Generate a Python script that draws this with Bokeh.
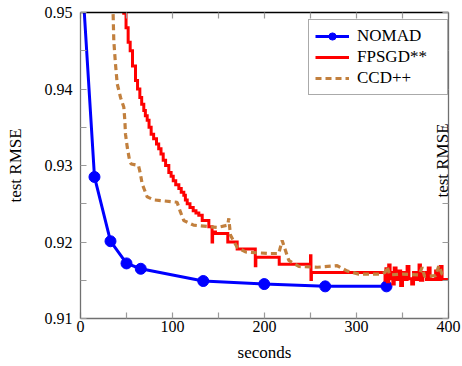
import math
from bokeh.plotting import figure
from bokeh.models import (Range1d, FixedTicker, LinearAxis, Legend, LegendItem, Label,
                          CustomJSTickFormatter)
from bokeh.embed import file_html
from bokeh.resources import INLINE

# ---- data ----
nomad_t = [0, 15.2, 32.6, 50.0, 65.5, 133.4, 199.7, 266.0, 332.6]
nomad_rmse = [0.958, 0.9285, 0.9201, 0.9172, 0.9165, 0.9149, 0.9145, 0.9142, 0.9142]

fpsgd_t = [40, 47, 49.5, 51.8, 54, 56.5, 59.8, 62, 64.5, 66.5, 68.8, 70.5, 72.5, 74.5,
           76.8, 79.5, 82.6, 85, 87.5, 89.9, 92.5, 96, 98.5, 100.8, 103.5, 106.9, 109.5,
           112.3, 114, 116, 119, 122.5, 125.5, 128.6, 132.3, 139.5, 143.0, 143.6, 146.7,
           160.1, 170.3, 190.0, 190.6, 216, 250.0, 250.5, 251.0,
           331, 332, 333.5, 335, 336.5, 338, 339.5, 341, 343, 346, 348, 350, 352, 355,
           357, 360, 362, 365, 368, 369.5, 372, 376, 378, 380, 386, 388, 391, 393, 400]
fpsgd_rmse = [0.9525, 0.9499, 0.9480, 0.9461, 0.9450, 0.9430, 0.9411, 0.9400, 0.9389,
              0.9380, 0.9372, 0.9365, 0.9359, 0.9350, 0.9341, 0.9335, 0.9328, 0.9322,
              0.9315, 0.9307, 0.9300, 0.9291, 0.9286, 0.9280, 0.9275, 0.9270, 0.9265,
              0.9261, 0.9255, 0.9250, 0.9245, 0.9241, 0.9238, 0.9235, 0.9228, 0.9220,
              0.9200, 0.9213, 0.9211, 0.9200, 0.9191, 0.9169, 0.9180, 0.9171, 0.9182,
              0.9151, 0.9160,
              0.9150, 0.9165, 0.9148, 0.9170, 0.9152, 0.9160, 0.9145, 0.9166, 0.9151,
              0.9162, 0.9143, 0.9160, 0.9151, 0.9168, 0.9152, 0.9145, 0.9160, 0.9151,
              0.9170, 0.9150, 0.9160, 0.9151, 0.9166, 0.9151, 0.9162, 0.9151, 0.9168,
              0.9151, 0.9151]

ccd_t = [33, 35.5, 36.2, 38, 39.9, 43.5, 47.1, 48.2, 48.9, 50.8, 53.3, 55, 63, 65, 67,
         72.5, 80, 105, 108.7, 112.3, 123, 148.6, 160, 161.2, 163, 170.3, 179.4, 203,
         215.5, 219.2, 226.4, 237.3, 257.3, 279, 290, 302.5, 326, 331, 333.4, 336, 350,
         368, 371.4, 374, 386, 389.5, 393, 395]
ccd_rmse = [0.955, 0.9496, 0.9463, 0.9433, 0.9407, 0.9389, 0.9376, 0.9359, 0.9341,
            0.9324, 0.9307, 0.9302, 0.9300, 0.9290, 0.9276, 0.9259, 0.9255, 0.9252,
            0.9239, 0.9228, 0.9222, 0.9219, 0.9222, 0.9231, 0.9209, 0.9193, 0.9187,
            0.9185, 0.9185, 0.9202, 0.9176, 0.9168, 0.9167, 0.9169, 0.9162, 0.9158,
            0.9158, 0.9160, 0.9168, 0.9157, 0.9158, 0.9157, 0.9167, 0.9155, 0.9156,
            0.9169, 0.9158, 0.9157]

x_ticks = [0, 100, 200, 300, 400]
x_minor = [50, 150, 250, 350]
y_ticks = [0.91, 0.92, 0.93, 0.94, 0.95]
y_minor = [0.915, 0.925, 0.935, 0.945]

FONT = "Liberation Serif"
AX = "#707070"
TK = "#9a9a9a"

p = figure(width=462, height=366, output_backend="svg", toolbar_location=None,
           x_range=Range1d(0, 400), y_range=Range1d(0.91, 0.95),
           min_border_left=80, min_border_right=14, min_border_top=12, min_border_bottom=48,
           x_axis_label="seconds", y_axis_label="test RMSE")
p.outline_line_color = None
p.xgrid.visible = False
p.ygrid.visible = False
p.background_fill_color = "white"
p.border_fill_color = "white"

def style_axis(ax, line_color, labels=True):
    ax.axis_line_color = line_color
    ax.axis_line_width = 1.3
    ax.major_tick_line_color = TK
    ax.minor_tick_line_color = TK
    ax.major_tick_in = 6
    ax.major_tick_out = 0
    ax.minor_tick_in = 6
    ax.minor_tick_out = 0
    ax.major_tick_line_width = 1.2
    ax.minor_tick_line_width = 1.2
    ax.major_label_text_font = FONT
    ax.major_label_text_font_size = "16px"
    ax.major_label_text_color = "black"
    ax.axis_label_text_font = FONT
    ax.axis_label_text_font_size = "17px"
    ax.axis_label_text_font_style = "normal"
    ax.axis_label_text_color = "black"
    if not labels:
        ax.formatter = CustomJSTickFormatter(code="return ''")
        ax.major_label_standoff = 0

p.xaxis.ticker = FixedTicker(ticks=x_ticks, minor_ticks=x_minor)
p.yaxis.ticker = FixedTicker(ticks=y_ticks, minor_ticks=y_minor)
style_axis(p.xaxis[0], AX)
style_axis(p.yaxis[0], AX)
p.xaxis.major_label_standoff = 2
p.xaxis.axis_label_standoff = 8
p.yaxis.major_label_standoff = 8
p.yaxis.axis_label_standoff = 17

top = LinearAxis(ticker=FixedTicker(ticks=x_ticks, minor_ticks=x_minor))
style_axis(top, "black", labels=False)
p.add_layout(top, "above")
right = LinearAxis(ticker=FixedTicker(ticks=y_ticks, minor_ticks=y_minor))
style_axis(right, AX, labels=False)
p.add_layout(right, "right")

# ---- series ----
r_nl = p.line(nomad_t, nomad_rmse, line_color="#0000ff", line_width=3)
r_nc = p.scatter(nomad_t, nomad_rmse, size=11, marker="circle",
                 fill_color="#0000ff", line_color="#0000ff")
r_f = p.step(fpsgd_t, fpsgd_rmse, mode="after", line_color="#ff0000", line_width=3,
             line_join="miter")
r_c = p.line(ccd_t, ccd_rmse, line_color="#c2803e", line_width=3.2, line_dash="6 4")

legend = Legend(items=[
    LegendItem(label="NOMAD", renderers=[r_nl, r_nc]),
    LegendItem(label="FPSGD**", renderers=[r_f]),
    LegendItem(label="CCD++", renderers=[r_c]),
], location=(228, 223))
legend.label_text_font = FONT
legend.label_text_font_size = "17px"
legend.label_text_color = "black"
legend.glyph_width = 34
legend.glyph_height = 18
legend.label_height = 18
legend.label_width = 84
legend.label_standoff = 8
legend.spacing = 1
legend.padding = 6
legend.margin = 0
legend.border_line_color = "#555555"
legend.border_line_width = 1.2
legend.background_fill_color = "white"
legend.background_fill_alpha = 1
p.add_layout(legend, "center")

rlab = Label(x=362, y=158, x_units="screen", y_units="screen", text="test RMSE",
             angle=math.pi / 2, text_align="center", text_baseline="middle",
             text_font=FONT, text_font_size="17px", text_color="black")
p.add_layout(rlab)

open("out.html", "w").write(file_html(p, INLINE))
